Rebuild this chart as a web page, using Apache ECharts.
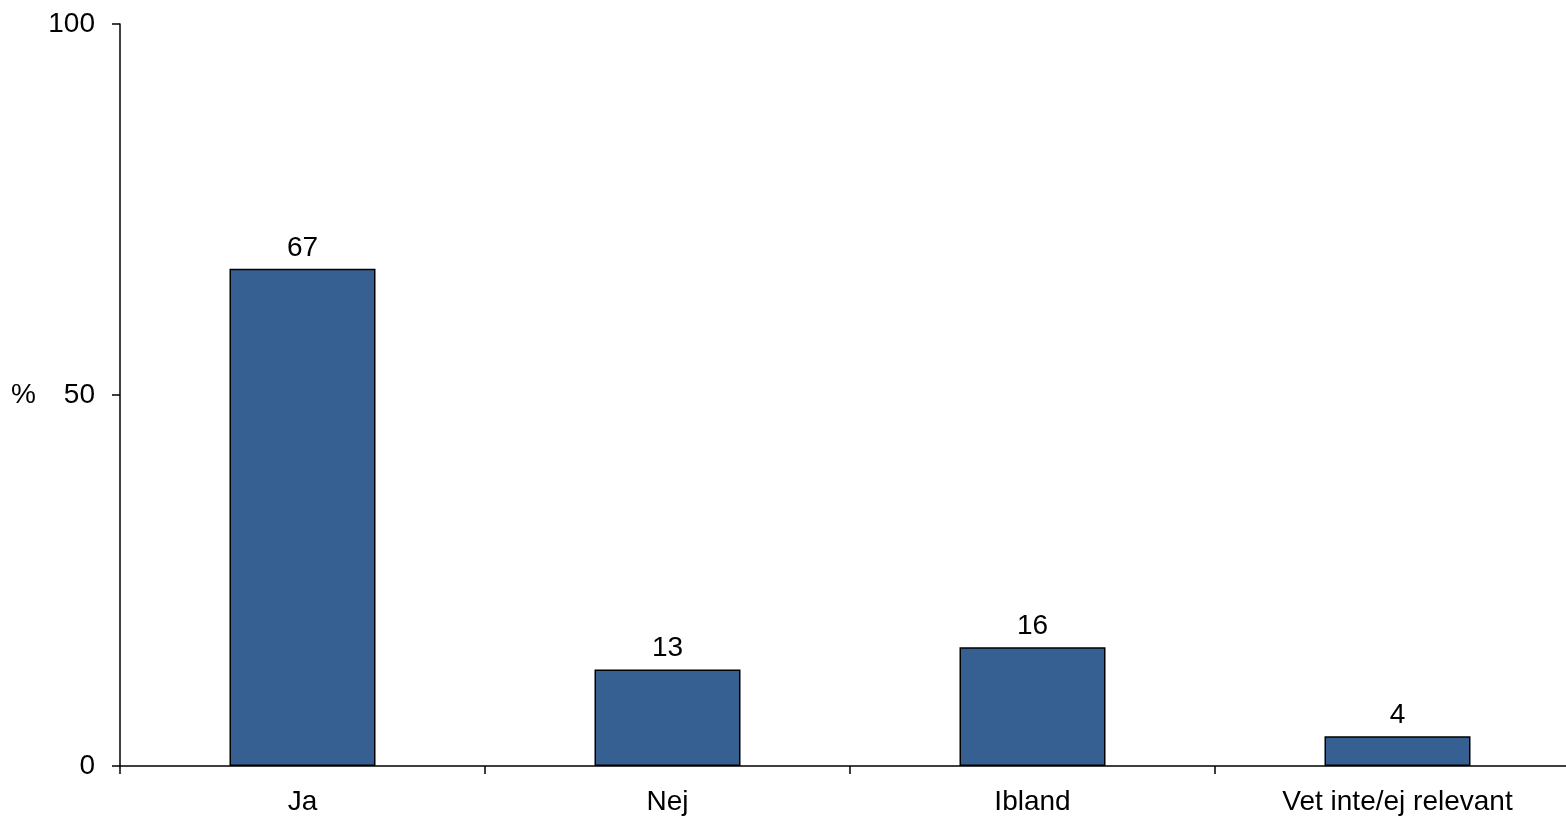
<!DOCTYPE html>
<html>
<head>
<meta charset="utf-8">
<script src="https://cdn.jsdelivr.net/npm/echarts@6/dist/echarts.min.js"></script>
<style>
html,body{margin:0;padding:0;background:#fff;}
#chart{width:1566px;height:816px;}
</style>
</head>
<body>
<div id="chart"></div>
<script>
const categories = ['Ja', 'Nej', 'Ibland', 'Vet inte/ej relevant'];
const values = [67, 13, 16, 4];
const yTicks = [0, 50, 100];
const yName = '%';

const font = 'Liberation Sans, Arial, sans-serif';
const chart = echarts.init(document.getElementById('chart'), null, {renderer: 'canvas'});
chart.setOption({
  animation: false,
  backgroundColor: '#ffffff',
  grid: {left: 120, right: -14, top: 24, bottom: 50, containLabel: false, outerBoundsMode: 'none'},
  xAxis: {
    type: 'category',
    data: categories,
    axisLine: {lineStyle: {color: '#000', width: 1.5}},
    axisTick: {show: true, length: 8, lineStyle: {color: '#000', width: 1.5}},
    axisLabel: {color: '#000', fontFamily: font, fontSize: 28, margin: 22}
  },
  yAxis: {
    type: 'value',
    min: yTicks[0],
    max: yTicks[yTicks.length - 1],
    interval: 50,
    name: yName,
    nameLocation: 'middle',
    nameRotate: 0,
    nameGap: 84,
    nameTextStyle: {color: '#000', fontFamily: font, fontSize: 28},
    axisLine: {show: true, lineStyle: {color: '#000', width: 1.5}},
    axisTick: {show: true, length: 8, lineStyle: {color: '#000', width: 1.5}},
    splitLine: {show: false},
    axisLabel: {color: '#000', fontFamily: font, fontSize: 28, margin: 25}
  },
  series: [{
    type: 'bar',
    data: values,
    barWidth: '40%',
    itemStyle: {color: '#366092', borderColor: '#000', borderWidth: 1.5},
    label: {show: true, position: 'top', distance: 7, color: '#000', fontFamily: font, fontSize: 28}
  }]
});
</script>
</body>
</html>
